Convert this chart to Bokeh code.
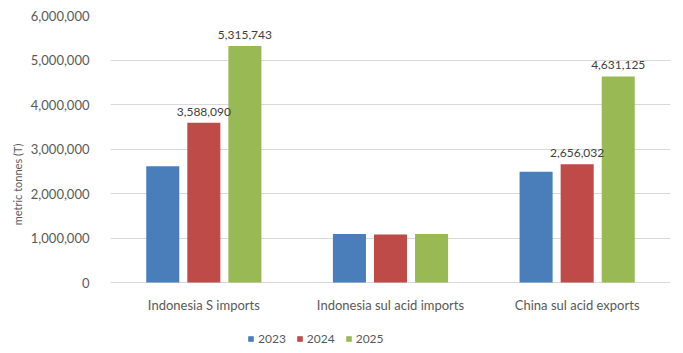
from bokeh.plotting import figure
from bokeh.models import (ColumnDataSource, FactorRange, Range1d, NumeralTickFormatter,
                          Legend, LegendItem, LabelSet, FixedTicker)
from bokeh.core.properties import value
from bokeh.transform import dodge
from bokeh.embed import file_html
from bokeh.resources import INLINE

categories = ["Indonesia S imports", "Indonesia sul acid imports", "China sul acid exports"]
years = ["2023", "2024", "2025"]
v2023 = [2610000, 1090000, 2490000]
v2024 = [3588090, 1080000, 2656032]
v2025 = [5315743, 1090000, 4631125]
show2024 = [True, False, True]
show2025 = [True, False, True]
y_ticks = [0, 1000000, 2000000, 3000000, 4000000, 5000000, 6000000]

colors = ["#4a7ebb", "#be4b48", "#98b954"]
FONT = "Lato"
TXT = "#595959"

def fmt(vals, show):
    return ["{:,}".format(v) if s else "" for v, s in zip(vals, show)]

src = ColumnDataSource(dict(
    cats=categories, y2023=v2023, y2024=v2024, y2025=v2025,
    l2024=fmt(v2024, show2024), l2025=fmt(v2025, show2025),
    zero=[0] * len(categories),
))

# frame spans from y=15 to the bottom of the page (353); value 0 sits at y=282
y_top = y_ticks[-1]
y_bottom = -y_top * 71.0 / 267.0

p = figure(width=683, height=353, x_range=FactorRange(*categories),
           y_range=Range1d(y_bottom, y_top), output_backend="svg", toolbar_location=None,
           x_axis_location=None,
           min_border_left=110, min_border_right=13, min_border_top=15, min_border_bottom=0)
p.outline_line_color = None
p.background_fill_color = "white"
p.border_fill_color = "white"

offs = [-0.22, 0.0, 0.22]
renderers = []
for yr, off, c in zip(years, offs, colors):
    r = p.vbar(x=dodge("cats", off, range=p.x_range), top="y" + yr, width=0.177,
               source=src, fill_color=c, line_color=None)
    renderers.append(r)

for yr, off in [("2024", 0.0), ("2025", 0.22)]:
    lab = LabelSet(x=dodge("cats", off, range=p.x_range), y="y" + yr, text="l" + yr,
                   source=src, text_align="center", text_baseline="bottom", y_offset=7,
                   text_font=value(FONT), text_font_size=value("12px"), text_color="#404040")
    p.add_layout(lab)

cat_labels = LabelSet(x="cats", y="zero", text="cats", source=src, text_align="center",
                      text_baseline="middle", y_offset=-22,
                      text_font=value(FONT), text_font_size=value("13px"), text_color=TXT)
p.add_layout(cat_labels)

p.yaxis.ticker = FixedTicker(ticks=y_ticks)
p.yaxis.formatter = NumeralTickFormatter(format="0,0")
p.yaxis.axis_line_color = None
p.yaxis.major_tick_line_color = None
p.yaxis.minor_tick_line_color = None
p.yaxis.major_label_text_font = FONT
p.yaxis.major_label_text_font_size = "13px"
p.yaxis.major_label_text_color = TXT
p.yaxis.major_label_standoff = 15
p.yaxis.axis_label = "metric tonnes (T)"
p.yaxis.axis_label_text_font = FONT
p.yaxis.axis_label_text_font_size = "11px"
p.yaxis.axis_label_text_font_style = "normal"
p.yaxis.axis_label_text_color = TXT
p.yaxis.axis_label_standoff = 4

p.xgrid.grid_line_color = None
p.ygrid.grid_line_color = "#d9d9d9"
p.ygrid.grid_line_width = 1

legend = Legend(items=[LegendItem(label=yr, renderers=[r]) for yr, r in zip(years, renderers)],
                orientation="horizontal", location=(137, 7))
legend.label_text_font = FONT
legend.label_text_font_size = "12px"
legend.label_text_color = TXT
legend.glyph_width = 7
legend.glyph_height = 7
legend.label_standoff = 4
legend.spacing = 10
legend.border_line_color = None
legend.background_fill_alpha = 0
legend.margin = 0
legend.padding = 4
p.add_layout(legend, "center")

open("out.html", "w").write(file_html(p, INLINE))
